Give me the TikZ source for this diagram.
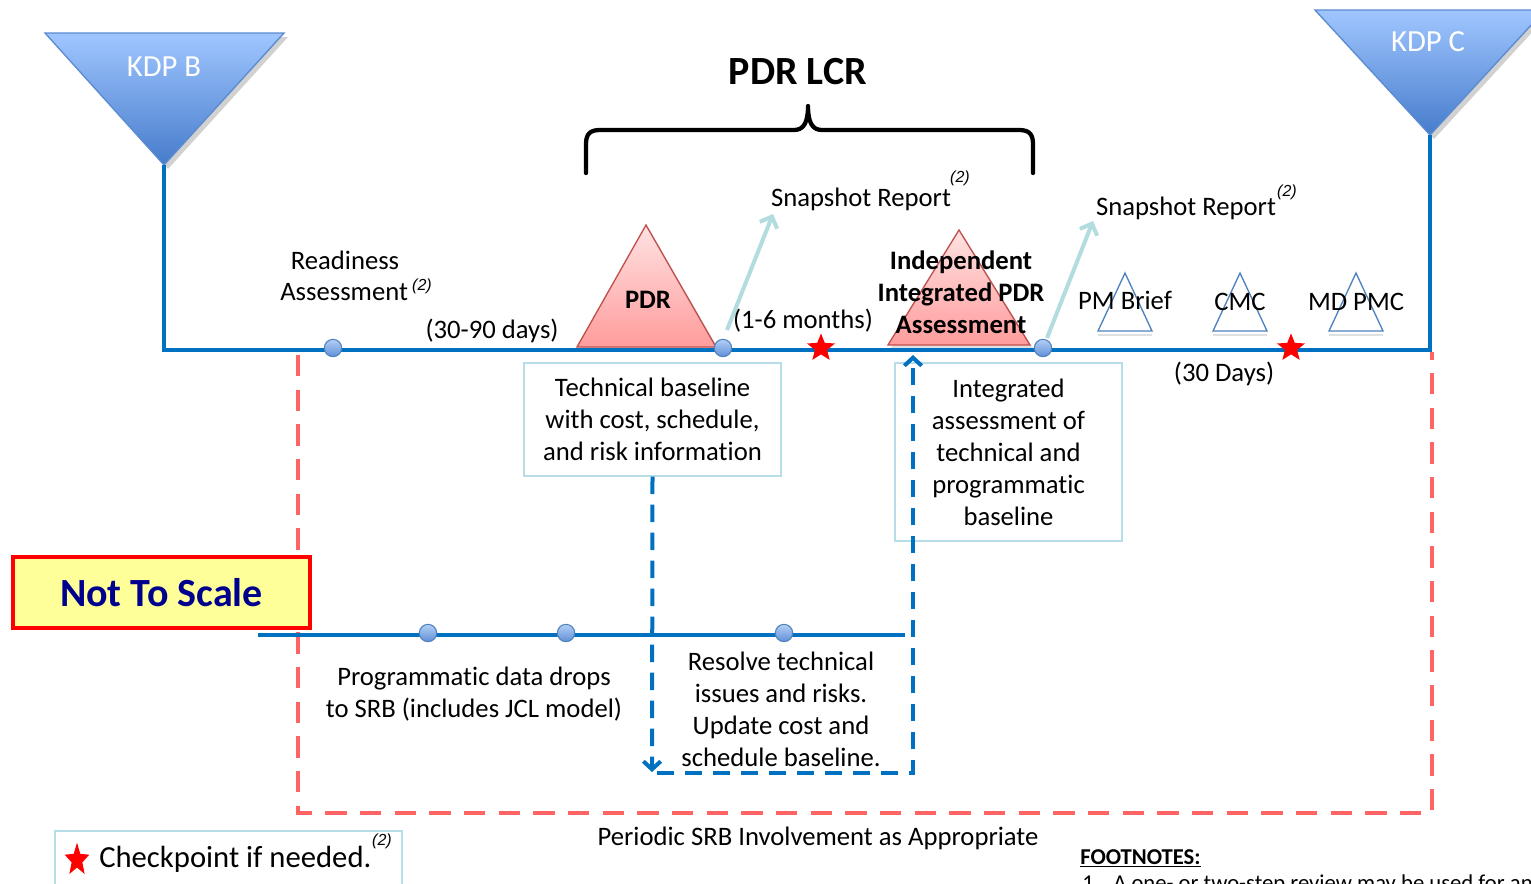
\documentclass[tikz,border=0pt]{standalone}
\usepackage{fontspec}
\setmainfont{Carlito}[Ligatures=NoCommon]
\newfontfamily\supfont{Liberation Sans}
\usetikzlibrary{shapes.geometric,arrows.meta}

\definecolor{lineblue}{HTML}{0070C0}
\definecolor{kdptop}{HTML}{A0C6FF}
\definecolor{kdpbot}{HTML}{467CCB}
\definecolor{kdpedge}{HTML}{5B8BD0}
\definecolor{pdrtop}{HTML}{FFE2E2}
\definecolor{pdrbot}{HTML}{FF9C9C}
\definecolor{pdredge}{HTML}{C0504D}
\definecolor{dottop}{HTML}{B4CFF5}
\definecolor{dotbot}{HTML}{5F8FD8}
\definecolor{dotedge}{HTML}{4F81BD}
\definecolor{snapteal}{HTML}{B2DCDF}
\definecolor{boxteal}{HTML}{B7DEE8}
\definecolor{srbred}{HTML}{FF6464}
\definecolor{notefill}{HTML}{FFFF99}
\definecolor{notetext}{HTML}{00008F}
\definecolor{tripedge}{HTML}{4F81BD}

\tikzset{
  lbl/.style={font=\fontsize{20}{24}\selectfont, inner sep=0pt, align=center},
  boldlbl/.style={lbl, font=\bfseries\fontsize{20}{24}\selectfont},
  suptext/.style={font=\supfont\itshape\fontsize{12}{14}\selectfont, inner sep=0pt},
  infobox/.style={draw=boxteal, line width=1pt, fill=white, align=center,
    font=\fontsize{20}{24}\selectfont, inner sep=0pt},
  dot/.style={circle, draw=dotedge, line width=0.8pt, top color=dottop,
    bottom color=dotbot, minimum size=13pt, inner sep=0pt},
  redstar/.style={star, star points=5, star point ratio=2.3, fill=red,
    minimum size=22pt, inner sep=0pt},
  timeline/.style={draw=lineblue, line width=3pt},
  kdptri/.style={top color=kdptop, bottom color=kdpbot, draw=kdpedge, line width=1pt},
  reviewtri/.style={top color=pdrtop, bottom color=pdrbot, draw=pdredge, line width=1pt},
  smalltri/.style={draw=tripedge, line width=1pt},
  snaparrow/.style={draw=snapteal, line width=3pt, -{Straight Barb[length=7pt,width=14pt,line width=3pt]}},
  flowdash/.style={draw=lineblue, line width=3pt, dash pattern=on 13pt off 8pt},
  flowtip/.style={-{Straight Barb[length=6pt,width=13pt,line width=3pt]}},
  srbdash/.style={draw=srbred, line width=3pt, dash pattern=on 16pt off 10pt},
}

\begin{document}
\begin{tikzpicture}[x=0.75pt,y=-0.75pt]
\useasboundingbox (0,0) rectangle (1531,883);
\clip (0,0) rectangle (1531,883);
\fill[white] (0,0) rectangle (1531,883);

% ---- periodic SRB involvement loop (red dashed) ----
\coordinate (srbA) at (298,355);
\coordinate (srbB) at (298,813);
\coordinate (srbC) at (1432,813);
\coordinate (srbD) at (1432,352);
\draw[srbdash, draw=black!13, shift={(2,4)}] (srbA) -- (srbB) -- (srbC) -- (srbD);
\draw[srbdash] (srbA) -- (srbB) -- (srbC) -- (srbD);

% ---- key decision points ----
\fill[black!18] (49,37) -- (288,37) -- (168,169) -- cycle;
\path[kdptri] (45,33) -- (284,33) -- (164,165) -- cycle;
\node[font=\fontsize{23}{26}\selectfont, text=white, inner sep=0pt] (kdpb) at (164,67) {KDP B};
\fill[black!18] (1319,14) -- (1549,14) -- (1434,139) -- cycle;
\path[kdptri] (1315,10) -- (1545,10) -- (1430,135) -- cycle;
\node[font=\fontsize{23}{26}\selectfont, text=white, inner sep=0pt] (kdpc) at (1428,42) {KDP C};
\coordinate (kdpbTip) at (164,165);
\coordinate (kdpcTip) at (1430,135);

% ---- review triangles ----
\fill[black!12] (580,350) -- (719,350) -- (649,229) -- cycle;
\path[reviewtri] (577,347) -- (716,347) -- (646,225) -- cycle;
\node[boldlbl] (pdr) at (648,300) {PDR};
\fill[black!12] (891,348) -- (1033,348) -- (962,234) -- cycle;
\path[reviewtri] (888,345) -- (1030,345) -- (959,230) -- cycle;
\node[boldlbl] (iipdr) at (961,292) {Independent\\Integrated PDR\\Assessment};

% ---- small review markers ----
\foreach \cx in {1125,1240,1356} {
  \draw[black!12, line width=1.5pt] (\cx-27,335) -- (\cx+27,335);
  \path[smalltri] (\cx-27,331) -- (\cx+27,331) -- (\cx,273) -- cycle;
}
\node[lbl] (pmbrief) at (1125,300) {PM Brief};
\node[lbl] (cmc) at (1240,302) {CMC};
\node[lbl] (mdpmc) at (1356,302) {MD PMC};

% ---- main timeline ----
\coordinate (tlStart) at (164,350);
\coordinate (tlEnd) at (1430,350);
\draw[timeline] (kdpbTip) -- (tlStart) -- (tlEnd) -- (kdpcTip);

\node[dot] (ready) at (333,348) {};
\node[dot] (pdrdone) at (723,348) {};
\node[dot] (iadone) at (1043,348) {};
\node[redstar] (chk1) at (821,348) {};
\node[redstar] (chk2) at (1291,348) {};

% ---- brace over the life-cycle review ----
\draw[line width=3.2pt, line cap=round, line join=round]
  (586,173) -- (586,144) .. controls (586,134) and (590,130) .. (600,130)
  -- (794,130) .. controls (804,130) and (808,122) .. (808,106)
  .. controls (808,122) and (812,130) .. (822,130)
  -- (1019,130) .. controls (1029,130) and (1033,134) .. (1033,144)
  -- (1033,173);
\node[font=\bfseries\fontsize{30}{32}\selectfont, inner sep=0pt] (lcr) at (798,72) {PDR LCR};

% ---- snapshot reports ----
\coordinate (snap1Start) at (727,330);
\coordinate (snap1End) at (773,214);
\draw[snaparrow] (snap1Start) -- (snap1End);
\node[lbl] (snap1) at (861,199) {Snapshot Report};
\node[suptext] (snap1n) at (960,178) {(2)};
\coordinate (snap2Start) at (1047,338);
\coordinate (snap2End) at (1093,221);
\draw[snaparrow] (snap2Start) -- (snap2End);
\node[lbl] (snap2) at (1186,208) {Snapshot Report};
\node[suptext] (snap2n) at (1287,192) {(2)};

% ---- timeline labels ----
\node[lbl] (ready1) at (345,260) {Readiness};
\node[lbl, anchor=west] (ready2) at (280,292) {Assessment};
\node[suptext] (ready2n) at (422,286) {(2)};
\node[lbl] (d3090) at (492,331) {(30-90 days)};
\node[lbl] (m16) at (803,321) {(1-6 months)};
\node[lbl] (d30) at (1224,374) {(30 Days)};

% ---- information boxes ----
\node[infobox, minimum width=192.75pt, minimum height=84.75pt] (techbox) at (652.5,419.5)
  {Technical baseline\\with cost, schedule,\\and risk information};
\node[infobox, minimum width=170.25pt, minimum height=133.5pt] (intbox) at (1008.5,452)
  {Integrated\\assessment of\\technical and\\programmatic\\baseline};

% ---- lower (programmatic) timeline ----
\coordinate (lowStart) at (258,635);
\coordinate (lowEnd) at (905,635);
\draw[timeline] (lowStart) -- (lowEnd);
\node[dot] (drop1) at (428,633) {};
\node[dot] (drop2) at (566,633) {};
\node[dot] (resolve) at (784,633) {};

\node[lbl] (drops) at (474,694) {Programmatic data drops\\to SRB (includes JCL model)};
\node[lbl] (resolvetxt) at (781,709.5) {Resolve technical\\issues and risks.\\Update cost and\\schedule baseline.};

% ---- technical flow loop (blue dashed) ----
\coordinate (flowDown) at (652,772);
\coordinate (flowCorner1) at (657,773);
\coordinate (flowCorner2) at (913,773);
\coordinate (flowUp) at (913,355);
\draw[flowdash, flowtip] (techbox.south) -- (flowDown);
\draw[flowdash, flowtip] (flowCorner1) -- (flowCorner2) -- (flowUp);

% ---- scale note ----
\node[draw=red, line width=3pt, fill=notefill, minimum width=222.75pt, minimum height=53.25pt,
  font=\bfseries\fontsize{30}{32}\selectfont, text=notetext, inner sep=0pt] (scale) at (161.5,592.5) {Not To Scale};

\node[lbl] (periodic) at (818,838) {Periodic SRB Involvement as Appropriate};

% ---- legend ----
\draw[draw=boxteal, line width=1pt] (55,831) rectangle (402,900);
\node[redstar, xscale=0.75, minimum size=26pt] (legstar) at (77,860) {};
\node[font=\fontsize{23}{26}\selectfont, inner sep=0pt, anchor=west] (legtext) at (99,859) {Checkpoint if needed.};
\node[suptext] (legn) at (382,841) {(2)};

% ---- footnotes ----
\node[font=\bfseries\fontsize{17}{19}\selectfont, inner sep=0pt, anchor=base west] (fnhead) at (1080,864) {\underline{FOOTNOTES:}};
\node[font=\fontsize{17}{19}\selectfont, inner sep=0pt, anchor=base west] (fn1num) at (1082,890) {1.};
\node[font=\fontsize{17}{19}\selectfont, inner sep=0pt, anchor=base west] (fn1) at (1113,890) {A one- or two-step review may be used for any};
\end{tikzpicture}
\end{document}
